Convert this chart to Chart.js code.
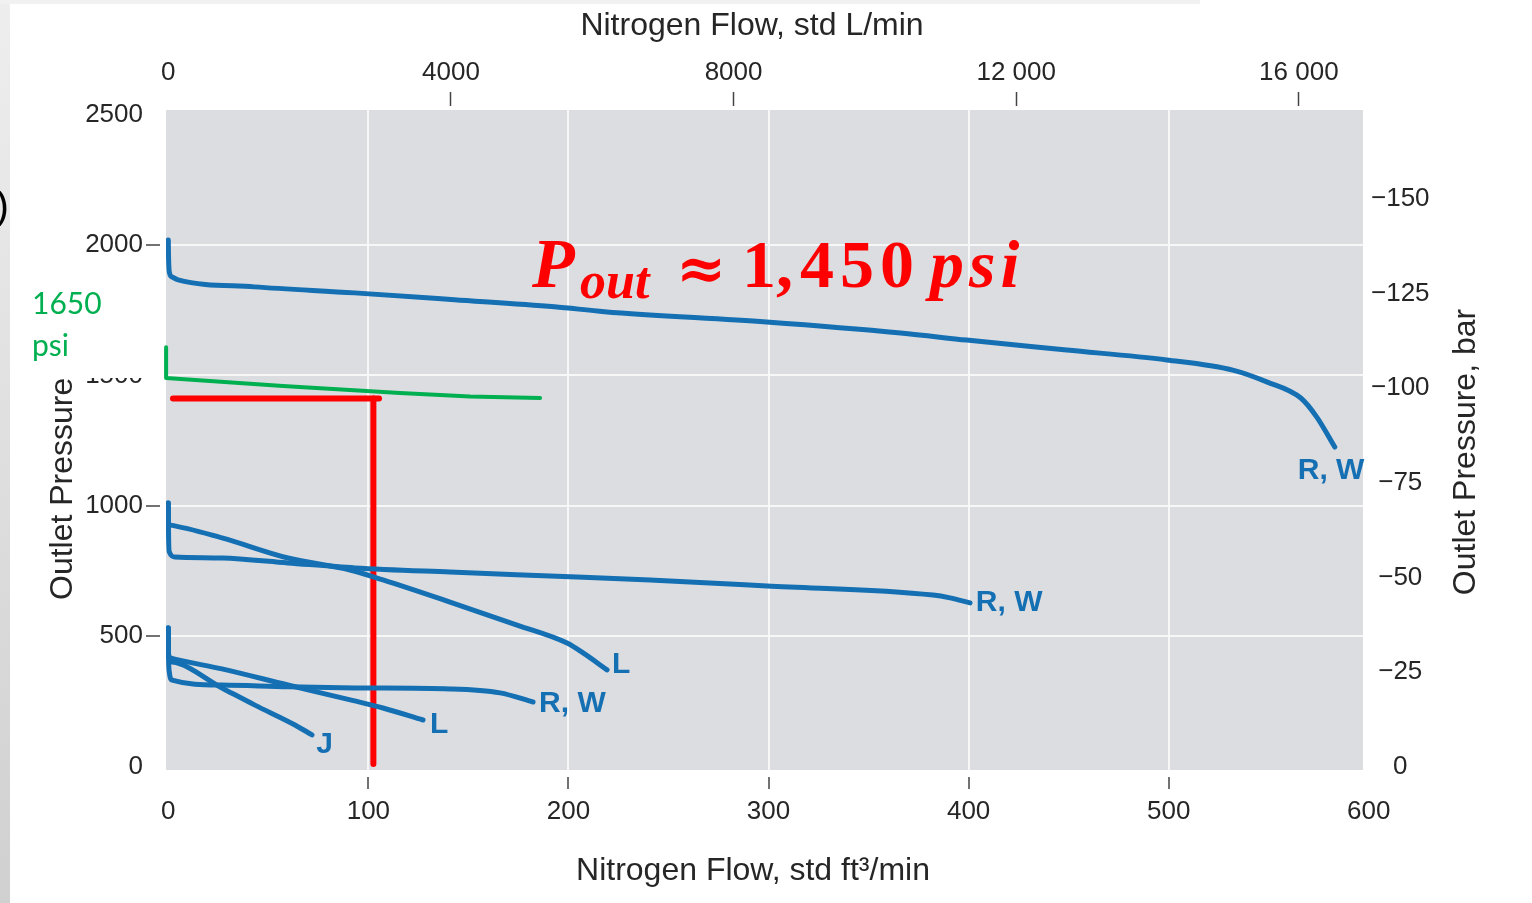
<!DOCTYPE html>
<html>
<head>
<meta charset="utf-8">
<script src="https://cdn.jsdelivr.net/npm/chart.js@4.4.1/dist/chart.umd.min.js"></script>
<style>
  html, body { margin: 0; padding: 0; background: #fff; }
</style>
</head>
<body>
<canvas id="myChart" width="1532" height="903"></canvas>
<script>
// curves: x = std ft3/min, y = outlet pressure psi
const rwTopX = [0, 0.1, 0.5, 1.9, 4.9, 43, 93, 143, 193, 218, 299, 366, 399, 449, 499, 532, 549, 566, 574, 583];
const rwTopY = [2019, 1961, 1896, 1877, 1866, 1839, 1816, 1790, 1763, 1744, 1704, 1662, 1635, 1597, 1559, 1520, 1475, 1413, 1340, 1225];

const rwMidX = [0, 0.1, 0.5, 3.3, 26.8, 59.8, 93.3, 140.8, 190.8, 240.8, 299.2, 382.2, 390.7, 400.7];
const rwMidY = [1011, 907, 823, 804, 800, 781, 762, 746, 731, 716, 693, 658, 647, 628];

const lMidX = [0, 0.1, 0.85, 26.8, 59.8, 90.8, 107.3, 140.8, 174.3, 199.3, 207.3, 219.3];
const lMidY = [1011, 938, 926, 877, 800, 754, 716, 631, 543, 474, 436, 371];

const rwLowX = [0, 0.1, 0.5, 1.9, 26.8, 59.8, 93.3, 140.8, 165.8, 182.3];
const rwLowY = [532, 428, 363, 332, 313, 306, 302, 298, 283, 248];

const lLowX = [0, 0.1, 0.85, 26.8, 59.8, 92, 107.3, 127.3];
const lLowY = [532, 436, 417, 375, 313, 254, 225, 179];

const jX = [0, 0.1, 1.9, 26.8, 43.3, 63.3, 71.8];
const jY = [532, 428, 401, 302, 236, 160, 122];

// hand-drawn marks on top of the figure
const greenX = [-1.1, -1.1, 57.3, 115.8, 150.8, 185.8];
const greenY = [1608, 1490, 1459, 1432, 1419, 1413];
const redHX = [2.35, 105.3];
const redHY = [1411, 1411];
const redVX = [102.5, 102.5];
const redVY = [1411, 10.3];

// curve end labels
const curveLabels = ['R, W', 'R, W', 'L', 'R, W', 'L', 'J'];
const curveLabelX = [564.5, 403.6, 221.7, 185.3, 130.8, 73.9];
const curveLabelY = [1133, 627, 390, 243, 162, 83];

// axes
const bottomTicks = [0, 100, 200, 300, 400, 500, 600];
const leftTicks = [0, 500, 1000, 1500, 2000, 2500];
const topTicks = [0, 4000, 8000, 12000, 16000];
const topTickLabels = ['0', '4000', '8000', '12 000', '16 000'];
const rightTicks = [0, 25, 50, 75, 100, 125, 150];
const rightTickLabels = ['0', '\u221225', '\u221250', '\u221275', '\u2212100', '\u2212125', '\u2212150'];

const LPM_PER_CFM = 28.3168;
const PSI_PER_BAR = 14.5038;
const X_MIN = -1.15, X_MAX = 597.1;
const Y_MIN = -12.6, Y_MAX = 2516.9;

const BLUE = '#156fb3';
const TXT = '#262626';
Chart.defaults.font.family = '"Liberation Sans", Arial, sans-serif';
Chart.defaults.color = TXT;

function pts(xs, ys) {
  return xs.map((x, i) => ({ x: x, y: ys[i] }));
}
function blueLine(xs, ys) {
  return {
    data: pts(xs, ys),
    borderColor: BLUE,
    borderWidth: 5,
    pointRadius: 0,
    cubicInterpolationMode: 'monotone',
    borderCapStyle: 'round',
    borderJoinStyle: 'round'
  };
}
function markLine(xs, ys, color, w) {
  return {
    data: pts(xs, ys),
    borderColor: color,
    borderWidth: w,
    pointRadius: 0,
    tension: 0,
    clip: false,
    borderCapStyle: 'round',
    borderJoinStyle: 'round'
  };
}
function fixTicks(list) {
  return s => { s.ticks = list.map(v => ({ value: v })); };
}
const inner = (list, v) => v !== list[0] && v !== list[list.length - 1];

const overlay = {
  id: 'overlay',
  beforeDraw(chart) {
    const { ctx, chartArea: a } = chart;
    ctx.save();
    ctx.fillStyle = '#fff';
    ctx.fillRect(0, 0, chart.width, chart.height);
    const g = ctx.createLinearGradient(0, 0, 0, chart.height);
    g.addColorStop(0, '#eeeeee');
    g.addColorStop(1, '#d0d0d0');
    ctx.fillStyle = g;
    ctx.fillRect(0, 0, 10, chart.height);
    ctx.fillStyle = '#f1f1f1';
    ctx.fillRect(0, 0, 1200, 4);
    ctx.fillStyle = '#dcdde1';
    ctx.fillRect(a.left, a.top, a.width, a.height);
    ctx.restore();
  },
  afterDraw(chart) {
    const ctx = chart.ctx;
    const xs = chart.scales.x, ys = chart.scales.y;
    ctx.save();

    // axis titles
    ctx.fillStyle = TXT;
    ctx.font = '32px "Liberation Sans"';
    ctx.textBaseline = 'alphabetic';
    ctx.textAlign = 'center';
    ctx.fillText('Nitrogen Flow, std L/min', 752, 35);
    ctx.fillText('Nitrogen Flow, std ft\u00b3/min', 753, 880);
    ctx.save();
    ctx.translate(72, 600);
    ctx.rotate(-Math.PI / 2);
    ctx.textAlign = 'left';
    ctx.fillText('Outlet Pressure', 0, 0);
    ctx.restore();
    ctx.save();
    ctx.translate(1475, 452);
    ctx.rotate(-Math.PI / 2);
    ctx.fillText('Outlet Pressure, bar', 0, 0);
    ctx.restore();

    // bits of the slide around the figure
    ctx.fillStyle = '#000';
    ctx.font = '40px "Noto Sans"';
    ctx.textAlign = 'left';
    ctx.fillText(')', -4, 220);

    // text box with the green note
    ctx.fillStyle = '#fff';
    ctx.fillRect(12, 281, 149, 97);
    ctx.fillStyle = '#00b050';
    ctx.font = '30px Lato';
    ctx.fillText('1650', 32, 314);
    ctx.fillText('psi', 32, 356);

    // curve labels
    ctx.fillStyle = BLUE;
    ctx.font = 'bold 30px "Liberation Sans"';
    ctx.textBaseline = 'middle';
    curveLabels.forEach((t, i) => {
      ctx.fillText(t, xs.getPixelForValue(curveLabelX[i]), ys.getPixelForValue(curveLabelY[i]));
    });

    // red formula
    ctx.fillStyle = '#ff0000';
    ctx.textBaseline = 'alphabetic';
    ctx.font = 'italic bold 70px "Liberation Serif"';
    ctx.fillText('P', 532, 287);
    ctx.font = 'italic bold 52px "Liberation Serif"';
    ctx.fillText('out', 580, 298);
    ctx.font = 'bold 60px "DejaVu Serif"';
    ctx.fillText('\u2248', 676, 289);
    ctx.font = 'bold 68px "Liberation Serif"';
    ctx.fillText('1,', 742, 287);
    ctx.letterSpacing = '6px';
    ctx.fillText('450', 800, 287);
    ctx.font = 'italic bold 68px "Liberation Serif"';
    ctx.letterSpacing = '5px';
    ctx.fillText('psi', 930, 287);
    ctx.restore();
  }
};

const context = document.getElementById('myChart').getContext('2d');
const chart = new Chart(context, {
  type: 'line',
  data: {
    datasets: [
      blueLine(rwTopX, rwTopY),
      blueLine(rwMidX, rwMidY),
      blueLine(lMidX, lMidY),
      blueLine(rwLowX, rwLowY),
      blueLine(lLowX, lLowY),
      blueLine(jX, jY),
      markLine(greenX, greenY, '#00b050', 4),
      markLine(redHX, redHY, '#ff0000', 6),
      markLine(redVX, redVY, '#ff0000', 6)
    ]
  },
  options: {
    responsive: false,
    animation: false,
    events: [],
    layout: { padding: 0 },
    plugins: { legend: { display: false }, tooltip: { enabled: false } },
    scales: {
      x: {
        type: 'linear', position: 'bottom', min: X_MIN, max: X_MAX,
        afterFit: s => { s.height = 133; },
        afterBuildTicks: fixTicks(bottomTicks),
        border: { display: false },
        grid: {
          color: c => inner(bottomTicks, c.tick.value) ? '#f7f7f7' : 'rgba(0,0,0,0)',
          lineWidth: 2,
          tickColor: c => inner(bottomTicks, c.tick.value) ? '#444' : 'rgba(0,0,0,0)',
          tickLength: 20, tickWidth: 1.5, tickBorderDash: [0, 7, 12, 100]
        },
        ticks: { autoSkip: false, maxRotation: 0, padding: 6, font: { size: 26 }, color: TXT,
          callback: v => String(v) }
      },
      x2: {
        type: 'linear', position: 'top',
        min: X_MIN * LPM_PER_CFM, max: X_MAX * LPM_PER_CFM,
        afterFit: s => { s.height = 110; },
        afterBuildTicks: fixTicks(topTicks),
        border: { display: false },
        grid: {
          drawOnChartArea: false,
          tickColor: c => c.tick.value === 0 ? 'rgba(0,0,0,0)' : '#444',
          tickLength: 18, tickWidth: 1.5, tickBorderDash: [14, 100]
        },
        ticks: { autoSkip: false, maxRotation: 0, padding: 4, font: { size: 26 }, color: TXT,
          callback: (v, i) => topTickLabels[i] }
      },
      y: {
        type: 'linear', position: 'left', min: Y_MIN, max: Y_MAX,
        afterFit: s => { s.width = 166; },
        afterBuildTicks: fixTicks(leftTicks),
        border: { display: false },
        grid: {
          color: c => inner(leftTicks, c.tick.value) ? '#f7f7f7' : 'rgba(0,0,0,0)',
          lineWidth: 2,
          tickColor: c => inner(leftTicks, c.tick.value) ? '#444' : 'rgba(0,0,0,0)',
          tickLength: 20, tickWidth: 1.5, tickBorderDash: [14, 100]
        },
        ticks: { autoSkip: false, padding: 3, font: { size: 26 }, color: TXT,
          callback: v => String(v) }
      },
      y2: {
        type: 'linear', position: 'right',
        min: Y_MIN / PSI_PER_BAR, max: Y_MAX / PSI_PER_BAR,
        afterFit: s => { s.width = 169; },
        afterBuildTicks: fixTicks(rightTicks),
        border: { display: false },
        grid: { drawOnChartArea: false, drawTicks: false },
        ticks: { autoSkip: false, padding: 8, crossAlign: 'center', font: { size: 26 }, color: TXT,
          callback: (v, i) => rightTickLabels[i] }
      }
    }
  },
  plugins: [overlay]
});
</script>
</body>
</html>
